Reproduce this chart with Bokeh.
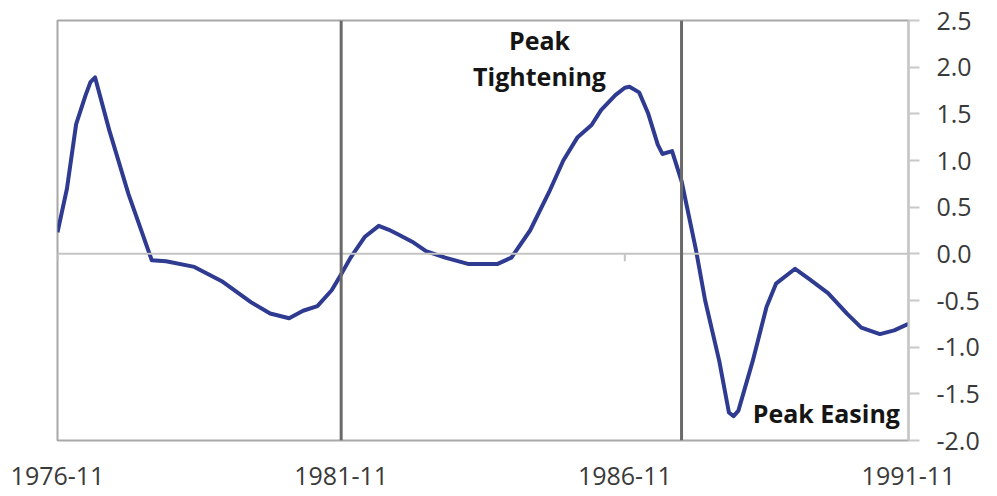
import pandas as pd
from bokeh.plotting import figure
from bokeh.models import (Range1d, FixedTicker, DatetimeTickFormatter, Span,
                          NumeralTickFormatter)
from bokeh.core.properties import value
from bokeh.embed import file_html
from bokeh.resources import INLINE

# ---- data ----
dates = ["1976-11", "1977-01", "1977-03", "1977-05", "1977-06", "1977-07", "1977-10",
         "1978-02", "1978-07", "1978-10", "1979-04", "1979-10", "1980-04", "1980-08",
         "1980-12", "1981-03", "1981-06", "1981-09", "1981-11", "1982-01", "1982-04",
         "1982-07", "1982-09", "1982-11", "1983-02", "1983-05", "1983-09", "1984-02",
         "1984-08", "1984-11", "1985-03", "1985-07", "1985-10", "1986-01", "1986-04",
         "1986-06", "1986-09", "1986-11", "1986-12", "1987-02", "1987-04", "1987-06",
         "1987-07", "1987-09", "1987-11", "1988-02", "1988-04", "1988-07", "1988-09",
         "1988-10", "1988-11", "1989-02", "1989-05", "1989-07", "1989-11", "1990-02",
         "1990-06", "1990-10", "1991-01", "1991-05", "1991-08", "1991-11"]
values = [0.23, 0.70, 1.39, 1.70, 1.84, 1.89, 1.32,
          0.64, -0.07, -0.08, -0.14, -0.30, -0.52, -0.64,
          -0.69, -0.61, -0.56, -0.39, -0.22, -0.04, 0.18,
          0.30, 0.26, 0.21, 0.13, 0.03, -0.04, -0.11,
          -0.11, -0.04, 0.25, 0.66, 1.00, 1.25, 1.38,
          1.54, 1.70, 1.78, 1.79, 1.73, 1.50, 1.17,
          1.07, 1.10, 0.78, 0.05, -0.50, -1.15, -1.70,
          -1.74, -1.68, -1.15, -0.57, -0.32, -0.16, -0.27,
          -0.42, -0.64, -0.79, -0.86, -0.82, -0.75]

x_tick_labels = ["1976-11", "1981-11", "1986-11", "1991-11"]
y_ticks = [-2.0, -1.5, -1.0, -0.5, 0.0, 0.5, 1.0, 1.5, 2.0, 2.5]
divider_dates = ["1981-11", "1987-11"]

tight_text = ["Peak\nTightening"]
tight_date = ["1985-05"]
tight_y = [2.47]
ease_text = ["Peak Easing"]
ease_date = ["1989-02"]
ease_y = [-1.71]

EPOCH = pd.Timestamp("1970-01-01")


def to_ms(strs):
    return [(pd.Timestamp(s + "-01") - EPOCH) // pd.Timedelta(milliseconds=1) for s in strs]


x = to_ms(dates)
x_ticks = to_ms(x_tick_labels)
dividers = to_ms(divider_dates)

FONT = "Open Sans"
LINE_BLUE = "#2E3B91"

p = figure(width=997, height=496, x_axis_type="datetime", y_axis_location="right",
           output_backend="svg", toolbar_location=None,
           x_range=Range1d(x_ticks[0], x_ticks[-1]),
           y_range=Range1d(y_ticks[0], y_ticks[-1]),
           min_border_left=57, min_border_right=89, min_border_top=20,
           min_border_bottom=56)

p.xgrid.visible = False
p.ygrid.visible = False
p.outline_line_color = "#a8a8a8"
p.outline_line_width = 2
p.background_fill_color = "white"
p.border_fill_color = "white"

# zero line
p.add_layout(Span(location=0, dimension="width", line_color="#c4c4c4", line_width=2))
# small tick marks on the zero line
p.segment(x0=x_ticks, y0=[0] * len(x_ticks), x1=x_ticks, y1=[-0.08] * len(x_ticks),
          line_color="#c4c4c4", line_width=2)
# vertical dividers
for d in dividers:
    p.add_layout(Span(location=d, dimension="height", line_color="#6a6a6a", line_width=3))

p.line(x, values, line_color=LINE_BLUE, line_width=4, line_join="round")

p.text(x=to_ms(tight_date), y=tight_y, text=tight_text, text_font=value(FONT),
       text_font_style="bold", text_font_size="25px", text_color="#151515",
       text_align="center", text_baseline="top", text_line_height=1.05)
p.text(x=to_ms(ease_date), y=ease_y, text=ease_text, text_font=value(FONT),
       text_font_style="bold", text_font_size="25px", text_color="#151515",
       text_align="left", text_baseline="middle")

xa = p.xaxis[0]
xa.ticker = FixedTicker(ticks=x_ticks)
fmt = "%Y-%m"
xa.formatter = DatetimeTickFormatter(milliseconds=fmt, seconds=fmt, minsec=fmt, minutes=fmt,
                                     hourmin=fmt, hours=fmt, days=fmt, months=fmt, years=fmt)
xa.major_tick_line_color = None
xa.minor_tick_line_color = None
xa.axis_line_color = None
xa.major_label_text_font = FONT
xa.major_label_text_font_size = "25px"
xa.major_label_text_color = "#3a3a3a"
xa.major_label_standoff = 20

ya = p.yaxis[0]
ya.ticker = FixedTicker(ticks=y_ticks)
ya.formatter = NumeralTickFormatter(format="0.0")
ya.major_tick_in = 0
ya.major_tick_out = 11
ya.major_tick_line_color = "#c8c8c8"
ya.major_tick_line_width = 2
ya.minor_tick_line_color = None
ya.axis_line_color = "#c8c8c8"
ya.axis_line_width = 2
ya.major_label_text_font = FONT
ya.major_label_text_font_size = "25px"
ya.major_label_text_color = "#3a3a3a"
ya.major_label_standoff = 17

open("out.html", "w").write(file_html(p, INLINE))
